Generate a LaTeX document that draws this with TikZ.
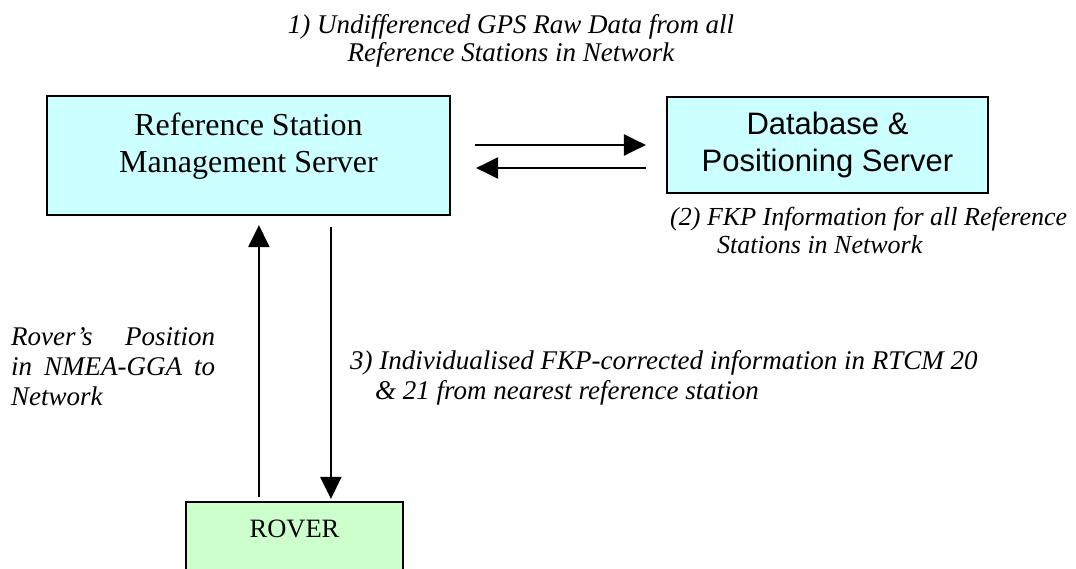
\documentclass[tikz,border=0pt]{standalone}
\usepackage{fontspec}
\setmainfont{Liberation Serif}
\newfontfamily\arialfont{Liberation Sans}
\usetikzlibrary{arrows.meta,calc}
\definecolor{boxcyan}{HTML}{CCFFFF}
\definecolor{boxgreen}{HTML}{CCFFCC}
\tikzset{
  srvbox/.style={draw=black, line width=2.2pt, rectangle, inner sep=0pt},
  arr/.style={line width=2.4pt, -{Triangle[length=22pt,width=21pt]}},
  lbl/.style={inner sep=0pt, font=\fontsize{27pt}{30pt}\selectfont\itshape},
  lbltight/.style={inner sep=0pt, font=\fontsize{27pt}{28pt}\selectfont\itshape},
  lblsmall/.style={inner sep=0pt, font=\fontsize{26pt}{28pt}\selectfont\itshape},
}
\begin{document}
\begin{tikzpicture}[x=1pt,y=-1pt]
\clip (0,0) rectangle (1076,568);
\fill[white] (0,0) rectangle (1076,568);
% boxes
\node[srvbox, fill=boxcyan, minimum width=403pt, minimum height=119pt] (rs) at (248.5,155.5) {};
\node[inner sep=0pt, align=center, font=\fontsize{32pt}{37pt}\selectfont] (rstxt) at ($(rs.center)+(0,-9.5)$) {Reference Station\\Management Server};
\node[srvbox, fill=boxcyan, minimum width=321pt, minimum height=96pt, align=center, font=\arialfont\fontsize{31pt}{37pt}\selectfont] (db) at (827.5,145) {Database \&\\Positioning Server};
\node[srvbox, fill=boxgreen, minimum width=217pt, minimum height=90pt] (rover) at (294.5,547) {};
\node[inner sep=0pt, anchor=base, font=\fontsize{26.5pt}{30pt}\selectfont] (rovertxt) at ($(rover.north)+(0,37)$) {ROVER};
% horizontal arrows
\coordinate (t1) at ($(rs.east |- db.west)+(24,0)$);
\coordinate (t2) at ($(db.west)+(-20,0)$);
\draw[arr] (t1) -- (t2);
\coordinate (b1) at ($(db.west)+(-20,23)$);
\coordinate (b2) at ($(rs.east |- db.west)+(25,23)$);
\draw[arr] (b1) -- (b2);
% vertical arrows
\coordinate (upbot) at ($(rover.north west)+(74,-4)$);
\draw[arr] (upbot) -- ($(upbot |- rs.south)+(0,9)$);
\coordinate (dnbot) at ($(rover.north west)+(146,-2)$);
\draw[arr] ($(dnbot |- rs.south)+(0,11)$) -- (dnbot);
% labels (base anchor = baseline of last line)
\node[lbltight, anchor=base, align=center] (l1) at (511,61) {1) Undifferenced GPS Raw Data from all\\Reference Stations in Network};
\node[lblsmall, anchor=base west, align=left] (l2) at (670,253) {(2) FKP Information for all Reference\\\hspace*{47pt}Stations in Network};
\node[lbl, anchor=base west, align=left] (l3) at (350,399) {3) Individualised FKP-corrected information in RTCM 20\\\hspace*{25pt}\& 21 from nearest reference station};
\node[lbl, anchor=base west, align=left] (l4) at (11,405) {\makebox[204pt][s]{Rover’s Position}\\\makebox[204pt][s]{in NMEA-GGA to}\\Network};
\end{tikzpicture}
\end{document}
